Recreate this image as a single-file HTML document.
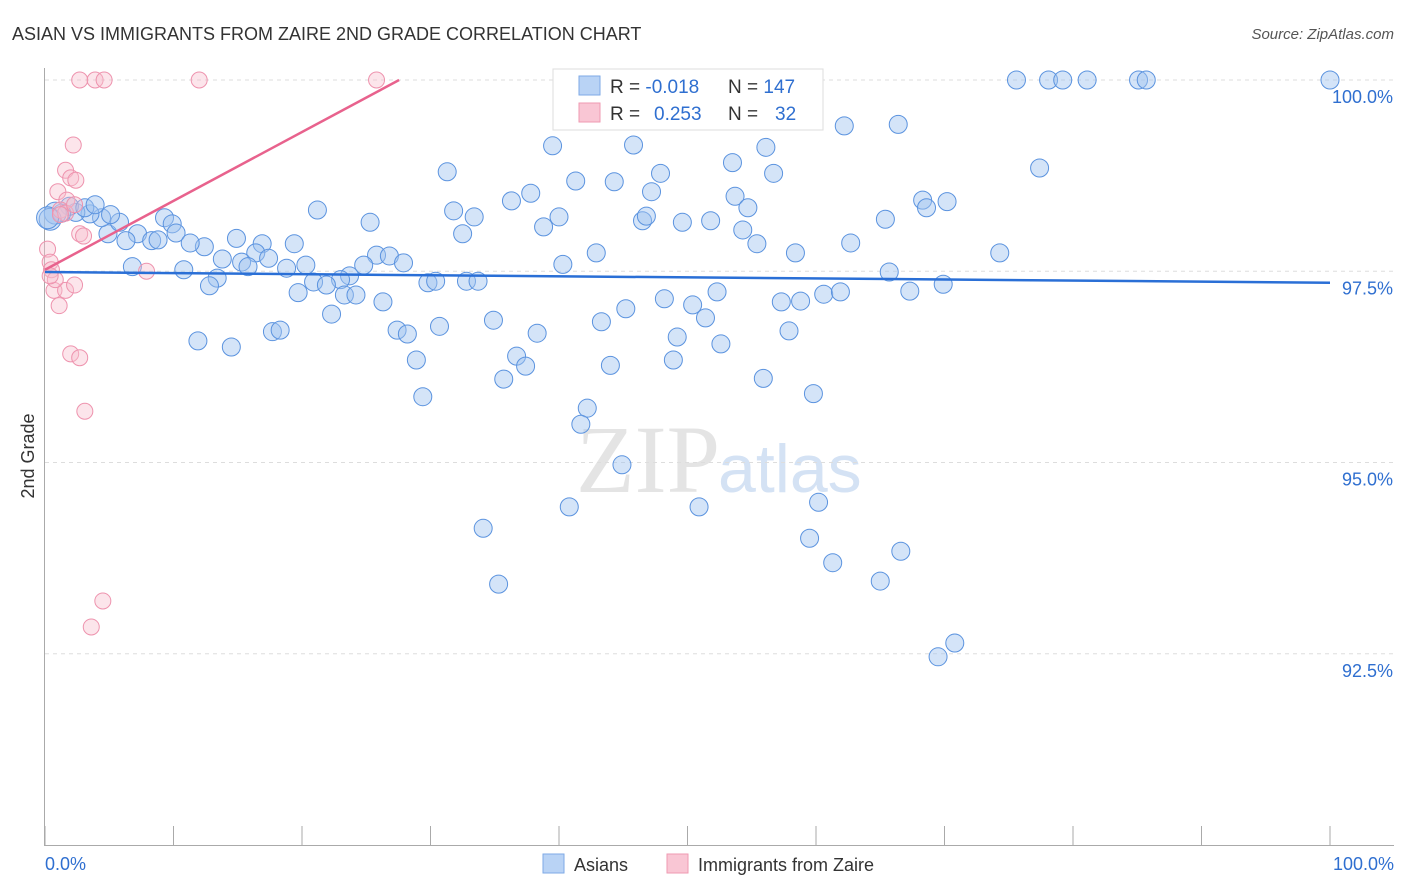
<!DOCTYPE html>
<html><head><meta charset="utf-8"><style>
body{margin:0;background:#fff;font-family:"Liberation Sans",sans-serif}
svg{display:block}
</style></head><body>
<svg id="c" width="1406" height="892">
<text x="12" y="40" font-size="18" fill="#333">ASIAN VS IMMIGRANTS FROM ZAIRE 2ND GRADE CORRELATION CHART</text>
<text x="1394" y="39" font-size="15" fill="#555" text-anchor="end" font-style="italic">Source: ZipAtlas.com</text>
<text x="34" y="456" font-size="18" fill="#333" text-anchor="middle" transform="rotate(-90 34 456)">2nd Grade</text>
<text x="720" y="492" font-size="96" fill="#e4e4e4" text-anchor="end" font-family="Liberation Serif,serif">ZIP</text>
<text x="718" y="492" font-size="68" fill="#d4e2f4">atlas</text>
<g id="grid"></g><g id="pts"></g><g id="trend"></g>
<rect x="553" y="69" width="270" height="61" fill="#fff" stroke="#ddd"/>
<rect x="579" y="76" width="21" height="19" fill="#b9d3f5" stroke="#7ea9e6"/>
<rect x="579" y="103" width="21" height="19" fill="#f9c6d4" stroke="#ef9ab2"/>
<text x="610" y="93" font-size="19" fill="#333">R = <tspan fill="#2f6fd0">-0.018</tspan></text>
<text x="728" y="93" font-size="19" fill="#333">N = <tspan fill="#2f6fd0">147</tspan></text>
<text x="610" y="120" font-size="19" fill="#333">R = <tspan fill="#2f6fd0" x="654">0.253</tspan></text>
<text x="728" y="120" font-size="19" fill="#333">N = <tspan fill="#2f6fd0" x="775">32</tspan></text>
<text x="45" y="870" font-size="18" fill="#2f6fd0">0.0%</text>
<text x="1394" y="870" font-size="18" fill="#2f6fd0" text-anchor="end">100.0%</text>
<rect x="543" y="854" width="21" height="19" fill="#b9d3f5" stroke="#7ea9e6"/>
<text x="574" y="871" font-size="18" fill="#333">Asians</text>
<rect x="667" y="854" width="21" height="19" fill="#f9c6d4" stroke="#ef9ab2"/>
<text x="698" y="871" font-size="18" fill="#333">Immigrants from Zaire</text>
</svg>
<script>
const yTicks=[100,97.5,95,92.5];
const yTickLabels=["100.0%","97.5%","95.0%","92.5%"];
const xTicks=[0,10,20,30,40,50,60,70,80,90,100];
const asianX=[75.6,78.1,79.2,81.1,85.1,85.7,100,62.2,66.4,45.8,39.5,56.1,53.5,77.4,31.3,47.9,56.7,41.3,44.3,47.2,37.8,36.3,53.7,68.3,70.2,68.6,54.7,21.2,31.8,40.0,33.4,46.5,46.8,49.6,51.8,65.4,25.3,38.8,32.5,54.3,55.4,62.7,9.3,9.9,10.2,14.9,16.9,19.4,12.4,11.3,16.4,7.2,8.3,8.8,6.3,4.9,5.8,4.4,3.5,2.4,1.9,1.3,0.8,0.4,0.2,25.8,26.8,27.9,42.9,40.3,58.4,74.3,13.8,15.3,15.8,17.4,18.8,20.3,24.8,23.7,23.0,6.8,10.8,13.4,12.8,19.7,20.9,21.9,23.3,24.2,26.3,29.8,30.4,32.8,33.7,65.7,69.9,67.3,52.3,48.2,50.4,57.3,58.8,60.6,61.9,45.2,51.4,43.3,34.9,30.7,22.3,27.4,28.2,38.3,49.2,57.9,17.7,18.3,11.9,14.5,52.6,28.9,36.7,37.4,44.0,48.9,55.9,35.7,29.4,59.8,42.2,41.7,44.9,60.2,40.8,50.9,34.1,59.5,66.6,61.3,35.3,65.0,69.5,70.8,3.1,3.9,5.1];
const asianY=[100,100,100,100,100,100,100,99.40,99.42,99.15,99.14,99.12,98.92,98.85,98.80,98.78,98.78,98.68,98.67,98.54,98.52,98.42,98.48,98.43,98.41,98.33,98.33,98.30,98.29,98.21,98.21,98.16,98.22,98.14,98.16,98.18,98.14,98.08,97.99,98.04,97.86,97.87,98.20,98.12,98.00,97.93,97.86,97.86,97.82,97.87,97.74,97.99,97.90,97.91,97.90,97.99,98.14,98.20,98.25,98.27,98.35,98.26,98.26,98.18,98.20,97.71,97.70,97.61,97.74,97.59,97.74,97.74,97.66,97.62,97.56,97.67,97.54,97.58,97.58,97.44,97.39,97.56,97.52,97.41,97.31,97.22,97.36,97.32,97.19,97.19,97.10,97.35,97.37,97.37,97.37,97.49,97.33,97.24,97.23,97.14,97.06,97.10,97.11,97.20,97.23,97.01,96.89,96.84,96.86,96.78,96.94,96.73,96.68,96.69,96.64,96.72,96.71,96.73,96.59,96.51,96.55,96.34,96.39,96.26,96.27,96.34,96.10,96.09,95.86,95.90,95.71,95.50,94.97,94.48,94.42,94.42,94.14,94.01,93.84,93.69,93.41,93.45,92.46,92.64,98.33,98.37,98.24];
const zaireX=[2.7,3.9,4.6,12.0,25.8,2.2,1.6,2.0,2.4,1.0,1.7,1.2,1.6,2.7,3.0,0.2,0.4,0.5,7.9,0.7,1.6,2.3,1.1,2.0,2.7,3.1,4.5,3.6,1.2,2.3,0.8,0.4];
const zaireY=[100,100,100,100,100,99.15,98.82,98.72,98.69,98.54,98.43,98.30,98.26,97.99,97.96,97.79,97.62,97.52,97.50,97.25,97.25,97.32,97.05,96.42,96.37,95.67,93.19,92.85,98.24,98.37,97.39,97.44];
const asianTrend=[97.49,97.35];
const zaireTrend=[97.52,0.09];
const X=v=>45+v*12.85, Y=v=>80+(100-v)*76.5;
const NS="http://www.w3.org/2000/svg";
function mk(t,a,p){const e=document.createElementNS(NS,t);for(const k in a)e.setAttribute(k,a[k]);p.appendChild(e);return e;}
const g=document.getElementById('grid');
yTicks.forEach((t,i)=>{
 const l=mk('line',{x1:45,x2:1394,y1:Y(t),y2:Y(t),stroke:'#ddd','stroke-dasharray':'4,4'},g);
 
 
 const tx=mk('text',{x:1393,y:Y(t)+23,'font-size':18,fill:'#2f6fd0','text-anchor':'end'},g);
 tx.textContent=yTickLabels[i];
 
 
});
const ax=mk('line',{x1:44.5,x2:44.5,y1:68,y2:846,stroke:'#aaa'},g);


const bx=mk('line',{x1:44,x2:1394,y1:845.5,y2:845.5,stroke:'#aaa'},g);


xTicks.forEach(t=>{
 const l=mk('line',{x1:X(t),x2:X(t),y1:826,y2:846,stroke:'#aaa'},g);
 
 
});
const p=document.getElementById('pts');
asianX.forEach((x,i)=>{
 const c=mk('circle',{cx:X(x),cy:Y(asianY[i]),r:x<1?11:9,fill:'rgba(160,196,240,0.45)',stroke:'#5b93df','stroke-width':1},p);
 
 
});
zaireX.forEach((x,i)=>{
 const c=mk('circle',{cx:X(x),cy:Y(zaireY[i]),r:8,fill:'rgba(248,190,206,0.4)',stroke:'#ee93ae','stroke-width':1},p);
 
 
});
const tr=document.getElementById('trend');
const bl=mk('line',{x1:X(0),y1:Y(asianTrend[0]),x2:X(100),y2:Y(asianTrend[1]),stroke:'#2a6fd6','stroke-width':2.5},tr);


const xe=Math.min(100,(100-zaireTrend[0])/zaireTrend[1]);
const pl=mk('line',{x1:X(0),y1:Y(zaireTrend[0]),x2:X(xe),y2:Y(zaireTrend[0]+zaireTrend[1]*xe),stroke:'#e8628d','stroke-width':2.5},tr);


</script>
</body></html>
